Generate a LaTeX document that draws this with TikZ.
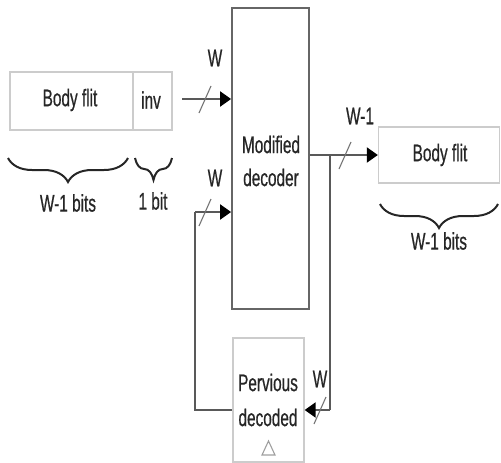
\documentclass[tikz,border=0pt]{standalone}
\usepackage{fontspec}
\setmainfont[FakeStretch=0.64,FakeBold=0.6]{Liberation Sans}
\usetikzlibrary{decorations.pathreplacing}
\usetikzlibrary{arrows.meta}
\tikzset{
  lbox/.style={draw=gray!40, line width=1.3pt, inner sep=0pt},
  dbox/.style={draw=black!60, line width=1.8pt, inner sep=0pt},
  bus/.style={draw=black!65, line width=2pt},
  arr/.style={bus, -{Triangle[length=11pt,width=15pt,fill=black,color=black]}},
  slash/.style={draw=black!55, line width=1.1pt},
  brc/.style={draw=black!85, line width=2pt, decorate, decoration={brace, mirror, amplitude=24pt}},
  lbl/.style={inner sep=0pt, text=black!85}
}

\begin{document}
\begin{tikzpicture}[x=1pt, y=-1pt, font=\fontsize{24}{28}\selectfont]
    \useasboundingbox (0,0) rectangle (501,463);

    % boxes
    \node[lbox, minimum width=123pt, minimum height=58pt] (body) at (71.5,101) {};
    \node[lbox, minimum width=39pt, minimum height=58pt] (inv) at (152.5,101) {};
    \node[lbl] (bodytxt) at (70,100) {Body flit};
    \node[lbl] (invtxt) at (151,100) {inv};
    \node[dbox, minimum width=77pt, minimum height=301pt] (dec) at (270.5,158.5) {};
    \node[lbl, align=center] (dectxt) at (271,161) {Modified\\[5pt]decoder};
    \node[lbox, minimum width=121pt, minimum height=56pt] (out) at (439,155) {};
    \node[lbl] (outtxt) at (440,155) {Body flit};
    \node[lbox, minimum width=71pt, minimum height=124pt] (prev) at (268.5,400) {};
    \node[lbl, align=center] (prevtxt) at (268,400) {Pervious\\[7pt]decoded};
    \draw[gray!75, line width=1.1pt] (262,455) -- (275,455) -- (268.5,441) -- cycle;

    % connectors
    \coordinate (in1) at (182,99);
    \coordinate (fb) at (195,212);
    \coordinate (fbb) at (195,410);
    \coordinate (br) at (330,155);
    \coordinate (brb) at (330,410);

    \draw[arr] (in1) -- (in1 -| dec.west);
    \draw[arr] (fb) -- (fb -| dec.west);
    \draw[bus] (fb) -- (fbb) -- (fbb -| prev.west);
    \draw[arr] (br -| dec.east) -- (br -| out.west);
    \draw[bus] (br) -- (brb);
    \draw[arr] (brb) -- (brb -| prev.east);

    % bus widths
    \draw[slash] (199,113) -- (211,86);
    \draw[slash] (199,226) -- (211,199);
    \draw[slash] (339,169) -- (351,142);
    \draw[slash] (314,424) -- (326,397);
    \node[lbl] (w1) at (215,58) {W};
    \node[lbl] (w2) at (215,178) {W};
    \node[lbl] (w3) at (360,116) {W-1};
    \node[lbl] (w4) at (320,379) {W};

    % braces
    \draw[brc] (8,158) -- (128,158);
    \draw[brc, decoration={amplitude=22pt}] (135,158) -- (172,158);
    \draw[brc] (380,204) -- (498,204);
    \node[lbl] (b1) at (68,203) {W-1 bits};
    \node[lbl] (b2) at (153,201) {1 bit};
    \node[lbl] (b3) at (439,241) {W-1 bits};
\end{tikzpicture}
\end{document}
